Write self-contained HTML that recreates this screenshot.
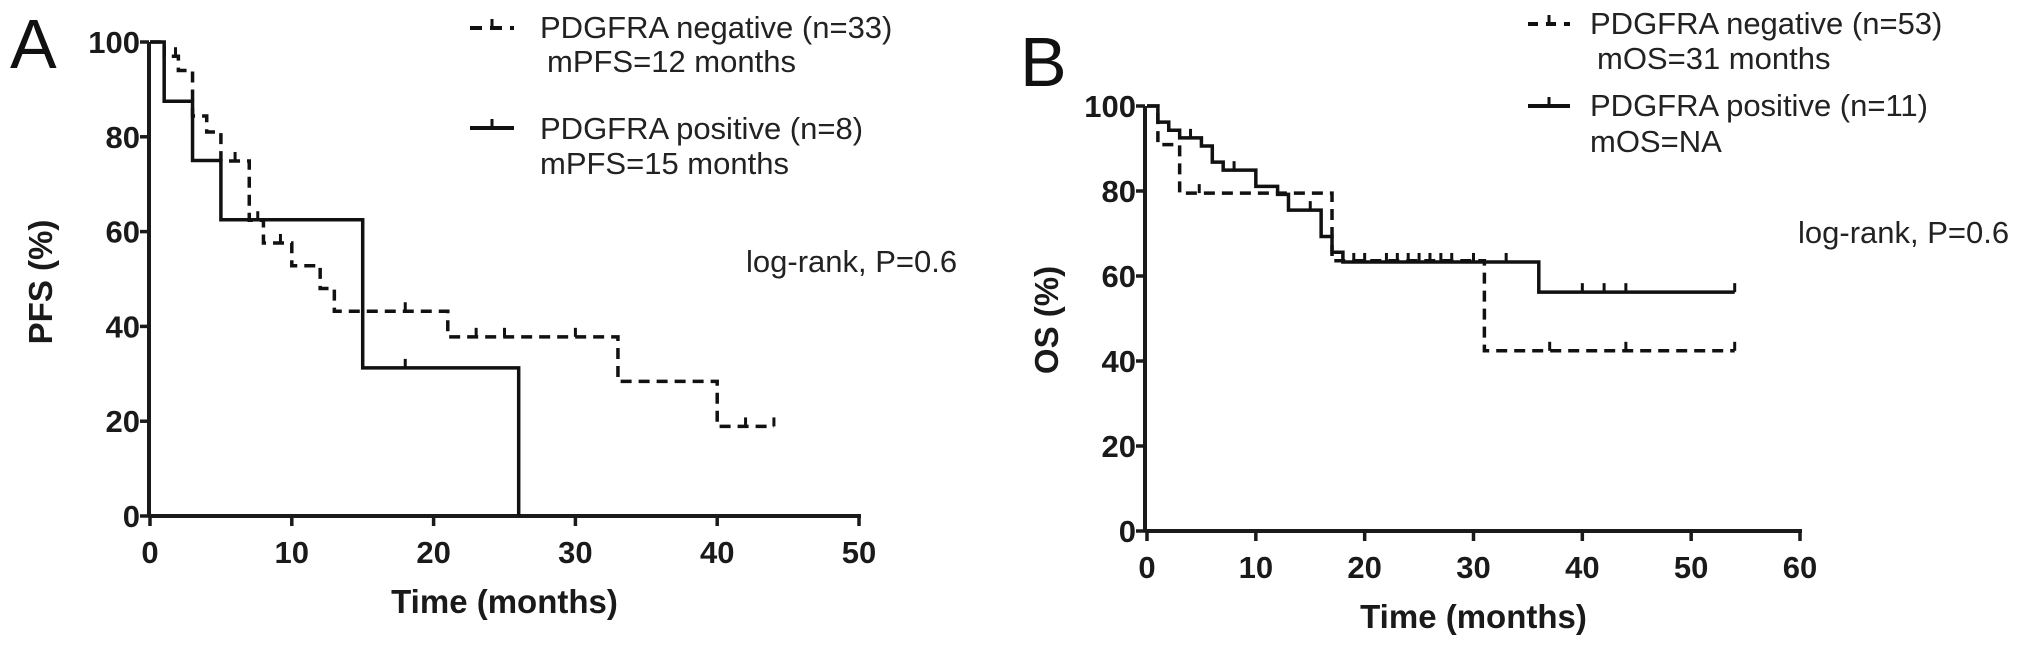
<!DOCTYPE html>
<html>
<head>
<meta charset="utf-8">
<style>
  html,body{margin:0;padding:0;background:#fff;}
  svg{display:block;}
  .tick{font-family:"Liberation Sans",Arial,sans-serif;font-weight:bold;font-size:31px;fill:#1a1a1a;}
  .title{font-family:"Liberation Sans",Arial,sans-serif;font-weight:bold;font-size:33px;fill:#1a1a1a;}
  .leg{font-family:"Liberation Sans",Arial,sans-serif;font-size:31px;fill:#222;}
  .panel{font-family:"Liberation Sans",Arial,sans-serif;font-size:70px;fill:#111;}
</style>
</head>
<body>
<svg id="chart" width="2031" height="647" viewBox="0 0 2031 647" xmlns="http://www.w3.org/2000/svg">
  <text class="panel" x="10" y="68">A</text>
  <text class="panel" x="1020" y="86">B</text>

  <!-- Legend A -->
  <g>
    <line x1="470" y1="28" x2="514" y2="28" stroke="#111" stroke-width="4" stroke-dasharray="12,8"/>
    <line x1="492" y1="28" x2="492" y2="19" stroke="#111" stroke-width="3"/>
    <text class="leg" x="540" y="38">PDGFRA negative (n=33)</text>
    <text class="leg" x="547" y="72">mPFS=12 months</text>
    <line x1="470" y1="128" x2="514" y2="128" stroke="#111" stroke-width="4"/>
    <line x1="492" y1="128" x2="492" y2="119" stroke="#111" stroke-width="3"/>
    <text class="leg" x="540" y="139">PDGFRA positive (n=8)</text>
    <text class="leg" x="540" y="174">mPFS=15 months</text>
    <text class="leg" x="746" y="272">log-rank, P=0.6</text>
  </g>

  <!-- Legend B -->
  <g>
    <line x1="1528" y1="24" x2="1570" y2="24" stroke="#111" stroke-width="4" stroke-dasharray="10,8"/>
    <line x1="1549" y1="24" x2="1549" y2="15" stroke="#111" stroke-width="3"/>
    <text class="leg" x="1590" y="34">PDGFRA negative (n=53)</text>
    <text class="leg" x="1597" y="69">mOS=31 months</text>
    <line x1="1528" y1="106" x2="1570" y2="106" stroke="#111" stroke-width="4"/>
    <line x1="1549" y1="106" x2="1549" y2="97" stroke="#111" stroke-width="3"/>
    <text class="leg" x="1590" y="116">PDGFRA positive (n=11)</text>
    <text class="leg" x="1590" y="152">mOS=NA</text>
    <text class="leg" x="1798" y="243">log-rank, P=0.6</text>
  </g>
</svg>
<script>
// ---------- Data ----------
const pfsXTicks = [0, 10, 20, 30, 40, 50];
const pfsYTicks = [0, 20, 40, 60, 80, 100];
const osXTicks = [0, 10, 20, 30, 40, 50, 60];
const osYTicks = [0, 20, 40, 60, 80, 100];

const pfsNegTimes = [1, 2, 3, 4, 5, 7, 8, 10, 12, 13, 21, 33, 40];
const pfsNegValues = [97, 94, 84.4, 81, 74.9, 62.4, 57.6, 52.8, 48, 43.2, 37.8, 28.4, 18.9];
const pfsNegCensor = [1.8, 6, 7.6, 9.2, 18, 23, 25, 30, 42, 44];
const pfsNegEnd = 44;

const pfsPosTimes = [1, 3, 5, 15, 26];
const pfsPosValues = [87.5, 75, 62.5, 31.25, 0];
const pfsPosCensor = [18];
const pfsPosEnd = 26;

const osNegTimes = [1, 3, 17, 31];
const osNegValues = [90.9, 79.5, 63.6, 42.4];
const osNegCensor = [4.8, 37, 44, 54];
const osNegEnd = 54;

const osPosTimes = [1, 2, 3, 5, 6, 7, 10, 12, 13, 16, 17, 18, 36];
const osPosValues = [96.2, 94.3, 92.5, 90.6, 86.8, 84.9, 81.1, 79.2, 75.5, 69.3, 65.6, 63.3, 56.2];
const osPosCensor = [4, 8, 15, 19, 20, 22, 23, 24, 25, 26, 27, 28, 30, 33, 40, 42, 44, 54];
const osPosEnd = 54;

// ---------- Rendering ----------
const svg = document.getElementById('chart');
const NS = 'http://www.w3.org/2000/svg';
function mk(tag, attrs) {
  const e = document.createElementNS(NS, tag);
  for (const k in attrs) e.setAttribute(k, attrs[k]);
  return e;
}

function drawPanel(cfg) {
  const sx = t => cfg.x0 + (t - cfg.xMin) / (cfg.xMax - cfg.xMin) * (cfg.x1 - cfg.x0);
  const sy = v => cfg.y0 + (v - 0) / 100 * (cfg.y1 - cfg.y0);
  const g = mk('g', {});
  
  
  svg.appendChild(g);

  const yAxis = mk('line', {x1: cfg.ax, y1: sy(100), x2: cfg.ax, y2: sy(0), stroke: '#1a1a1a', 'stroke-width': 4});
  
  
  g.appendChild(yAxis);
  cfg.yTicks.forEach(v => {
    g.appendChild(mk('line', {x1: cfg.ax - 9, y1: sy(v), x2: cfg.ax, y2: sy(v), stroke: '#1a1a1a', 'stroke-width': 3.5}));
    const t = mk('text', {x: cfg.ax - 9, y: sy(v) + 11, 'text-anchor': 'end', class: 'tick'});
    
    
    t.textContent = v;
    g.appendChild(t);
  });
  const xAxis = mk('line', {x1: cfg.ax, y1: sy(0), x2: sx(cfg.xMax) + 2, y2: sy(0), stroke: '#1a1a1a', 'stroke-width': 4});
  
  
  g.appendChild(xAxis);
  cfg.xTicks.forEach(v => {
    g.appendChild(mk('line', {x1: sx(v), y1: sy(0), x2: sx(v), y2: sy(0) + 10, stroke: '#1a1a1a', 'stroke-width': 3.5}));
    const t = mk('text', {x: sx(v), y: sy(0) + 47, 'text-anchor': 'middle', class: 'tick'});
    
    
    t.textContent = v;
    g.appendChild(t);
  });
  const xt = mk('text', {x: (sx(cfg.xMin) + sx(cfg.xMax)) / 2, y: sy(0) + 97, 'text-anchor': 'middle', class: 'title'});
  
  
  xt.textContent = 'Time (months)';
  g.appendChild(xt);
  const yt = mk('text', {x: 0, y: 0, 'text-anchor': 'middle', class: 'title', transform: 'translate(' + cfg.ytx + ',' + cfg.yty + ') rotate(-90)'});
  
  
  yt.textContent = cfg.yTitle;
  g.appendChild(yt);

  cfg.series.forEach(s => {
    let d = 'M' + sx(0) + ',' + sy(100);
    for (let i = 0; i < s.times.length; i++) {
      d += ' H' + sx(s.times[i]) + ' V' + sy(s.values[i]);
    }
    if (s.end > s.times[s.times.length - 1]) d += ' H' + sx(s.end);
    const p = mk('path', {d: d, fill: 'none', stroke: '#111', 'stroke-width': 3.5, 'stroke-dasharray': s.dash ? '11,7' : 'none'});
    
    
    g.appendChild(p);
    s.censor.forEach(ct => {
      let v = 100;
      for (let i = 0; i < s.times.length; i++) if (s.times[i] <= ct) v = s.values[i];
      const c = mk('line', {x1: sx(ct), y1: sy(v), x2: sx(ct), y2: sy(v) - 9, stroke: '#111', 'stroke-width': 3});
      
      
      g.appendChild(c);
    });
  });
}

drawPanel({
  name: 'pfs-panel', x0: 150, x1: 859, xMin: 0, xMax: 50, y0: 516, y1: 42, ax: 149,
  xTicks: pfsXTicks, yTicks: pfsYTicks, yTitle: 'PFS (%)', ytx: 52, yty: 282,
  series: [
    {name: 'pfs-negative-curve', times: pfsNegTimes, values: pfsNegValues, censor: pfsNegCensor, end: pfsNegEnd, dash: true},
    {name: 'pfs-positive-curve', times: pfsPosTimes, values: pfsPosValues, censor: pfsPosCensor, end: pfsPosEnd, dash: false}
  ]
});
drawPanel({
  name: 'os-panel', x0: 1147, x1: 1800, xMin: 0, xMax: 60, y0: 531, y1: 106, ax: 1145,
  xTicks: osXTicks, yTicks: osYTicks, yTitle: 'OS (%)', ytx: 1058, yty: 320,
  series: [
    {name: 'os-negative-curve', times: osNegTimes, values: osNegValues, censor: osNegCensor, end: osNegEnd, dash: true},
    {name: 'os-positive-curve', times: osPosTimes, values: osPosValues, censor: osPosCensor, end: osPosEnd, dash: false}
  ]
});
</script>
</body>
</html>
